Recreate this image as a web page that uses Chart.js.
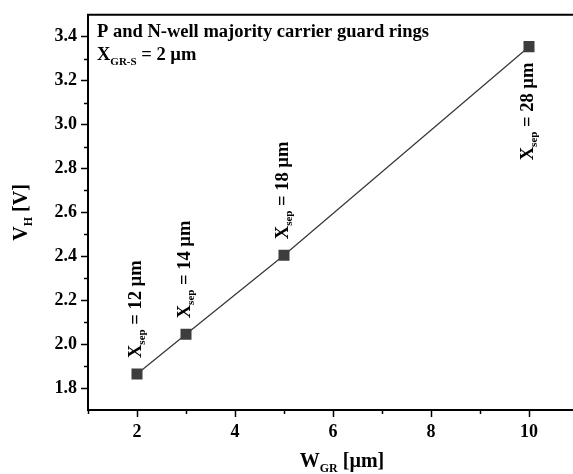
<!DOCTYPE html>
<html>
<head>
<meta charset="utf-8">
<script src="https://cdn.jsdelivr.net/npm/chart.js@4.4.1/dist/chart.umd.min.js"></script>
<style>
  body { margin: 0; overflow: hidden; background: #fff; }
  canvas { display: block; }
</style>
</head>
<body>
<canvas id="c" width="590" height="474"></canvas>
<script>
// data
const wGR = [2, 3, 5, 10];
const vH = [1.864, 2.045, 2.405, 3.355];
const sepLabels = ['12', '14', '18', '28'];
const labelBelow = [false, false, false, true];

const xTicks = [2, 4, 6, 8, 10];
const xMinor = [1, 3, 5, 7, 9];
const yTicks = [1.8, 2.0, 2.2, 2.4, 2.6, 2.8, 3.0, 3.2, 3.4];
const yMinor = [1.9, 2.1, 2.3, 2.5, 2.7, 2.9, 3.1, 3.3];

const FONT = '"Liberation Serif", "Times New Roman", serif';

function partsWidth(ctx, parts) {
  let w = 0;
  parts.forEach(p => {
    ctx.font = 'bold ' + p.size + 'px ' + FONT;
    w += ctx.measureText(p.t).width;
  });
  return w;
}

function richText(ctx, parts, x, y, rot) {
  ctx.save();
  ctx.translate(x, y);
  ctx.rotate(rot);
  ctx.fillStyle = '#000';
  ctx.textBaseline = 'alphabetic';
  ctx.textAlign = 'left';
  let cx = 0;
  parts.forEach(p => {
    ctx.font = 'bold ' + p.size + 'px ' + FONT;
    ctx.fillText(p.t, cx, p.dy || 0);
    cx += ctx.measureText(p.t).width;
  });
  ctx.restore();
}

const extras = {
  id: 'extras',
  afterDraw(chart) {
    const ctx = chart.ctx;
    const a = chart.chartArea;
    const xs = chart.scales.x, ys = chart.scales.y;

    ctx.save();
    ctx.strokeStyle = '#000';
    // top frame line
    ctx.lineWidth = 2;
    ctx.beginPath();
    ctx.moveTo(a.left - 1, a.top);
    ctx.lineTo(a.right, a.top);
    ctx.stroke();
    // minor ticks
    ctx.lineWidth = 1.5;
    xMinor.forEach(v => {
      const px = Math.round(xs.getPixelForValue(v)) + 0.5;
      ctx.beginPath();
      ctx.moveTo(px, a.bottom);
      ctx.lineTo(px, a.bottom + 4);
      ctx.stroke();
    });
    yMinor.forEach(v => {
      const py = Math.round(ys.getPixelForValue(v)) + 0.5;
      ctx.beginPath();
      ctx.moveTo(a.left - 4, py);
      ctx.lineTo(a.left, py);
      ctx.stroke();
    });
    ctx.restore();

    // point labels
    wGR.forEach((w, i) => {
      const px = xs.getPixelForValue(w);
      const py = ys.getPixelForValue(vH[i]);
      const parts = [
        { t: 'X', size: 18.5 },
        { t: 'sep', size: 11, dy: 4 },
        { t: ' = ' + sepLabels[i] + ' \u00b5m', size: 18.5 }
      ];
      const tw = partsWidth(ctx, parts);
      const y0 = labelBelow[i] ? py + 16 + tw : py - 16;
      richText(ctx, parts, px + 4, y0, -Math.PI / 2);
    });

    // inset text
    richText(ctx, [{ t: 'P and N-well majority carrier guard rings', size: 18.5 }], a.left + 9, 37, 0);
    richText(ctx, [
      { t: 'X', size: 18.5 },
      { t: 'GR-S', size: 11, dy: 5 },
      { t: ' = 2 \u00b5m', size: 18.5 }
    ], a.left + 9, 60, 0);

    // axis titles
    const yt = [
      { t: 'V', size: 20 },
      { t: 'H', size: 12, dy: 5 },
      { t: ' [V]', size: 20 }
    ];
    const ytw = partsWidth(ctx, yt);
    richText(ctx, yt, 27, (a.top + a.bottom) / 2 + ytw / 2, -Math.PI / 2);

    const xt = [
      { t: 'W', size: 20 },
      { t: 'GR', size: 12, dy: 5 },
      { t: ' [\u00b5m]', size: 20 }
    ];
    const xtw = partsWidth(ctx, xt);
    richText(ctx, xt, (a.left + a.right) / 2 + 9 - xtw / 2, 467, 0);
  }
};

new Chart(document.getElementById('c'), {
  type: 'line',
  data: {
    datasets: [{
      data: wGR.map((w, i) => ({ x: w, y: vH[i] })),
      borderColor: '#3a3a3a',
      borderWidth: 1.3,
      pointStyle: 'rect',
      pointRadius: 7.8,
      pointBackgroundColor: '#3d3d3d',
      pointBorderColor: '#3d3d3d',
      pointBorderWidth: 0,
      tension: 0,
      fill: false
    }]
  },
  options: {
    responsive: false,
    animation: false,
    layout: { padding: { left: 0, top: 12, right: 12, bottom: 0 } },
    plugins: { legend: { display: false }, tooltip: { enabled: false } },
    scales: {
      x: {
        type: 'linear',
        min: 1,
        max: 11,
        afterBuildTicks: s => { s.ticks = xTicks.map(v => ({ value: v })); },
        afterFit: s => { s.height = 64; },
        ticks: {
          callback: v => String(v),
          color: '#000',
          padding: 5,
          maxRotation: 0,
          font: { family: FONT, size: 18, weight: 'bold' }
        },
        grid: { drawOnChartArea: false, tickLength: 7, tickWidth: 1.5, tickColor: '#000' },
        border: { color: '#000', width: 2 }
      },
      y: {
        min: 1.7,
        max: 3.5,
        afterBuildTicks: s => { s.ticks = yTicks.map(v => ({ value: v })); },
        afterFit: s => { s.width = 88; },
        ticks: {
          callback: v => v.toFixed(1),
          color: '#000',
          padding: 4,
          font: { family: FONT, size: 18, weight: 'bold' }
        },
        grid: { drawOnChartArea: false, tickLength: 7, tickWidth: 1.5, tickColor: '#000' },
        border: { color: '#000', width: 2 }
      }
    }
  },
  plugins: [extras]
});
</script>
</body>
</html>
